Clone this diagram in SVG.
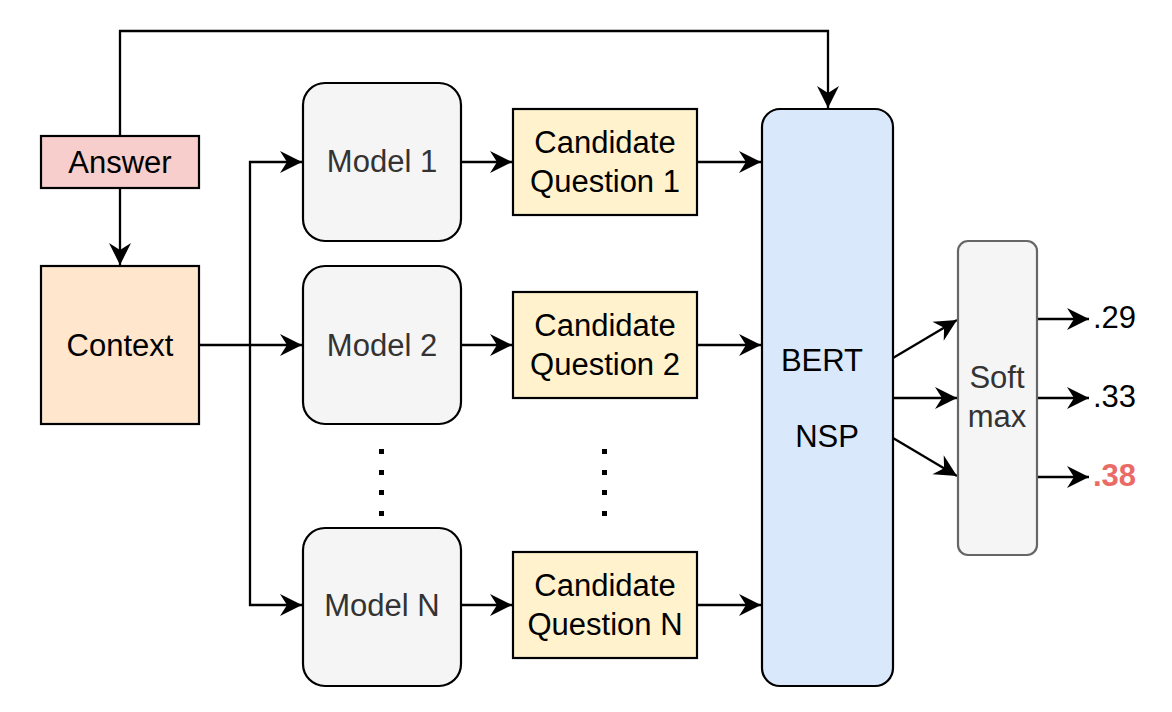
<svg xmlns="http://www.w3.org/2000/svg" width="1172" height="712" viewBox="0 0 1172 712">
<style>
text{font-family:"Liberation Sans",Arial,Helvetica,sans-serif;font-size:31px;text-anchor:middle;fill:#000}
.box{stroke:#000;stroke-width:2.2}
.gray{fill:#333}
.edge{fill:none;stroke:#000;stroke-width:2.3;marker-end:url(#arr)}
.dot{fill:#000}
</style>
<defs>
<marker id="arr" markerUnits="userSpaceOnUse" viewBox="-24 -12 26 24" refX="0" refY="0" markerWidth="26" markerHeight="24" orient="auto">
<path d="M0,0 L-22,-11 L-15,0 L-22,11 Z" fill="#000"/>
</marker>
</defs>
<rect width="1172" height="712" fill="#fff"/>
<g id="connectors">
<path class="edge" d="M120,136 V31 H828 V108"/>
<path class="edge" d="M120,188 V265"/>
<path class="edge" d="M199,345 H302"/>
<path class="edge" d="M250,345 V162 H302"/>
<path class="edge" d="M250,345 V605 H302"/>
<path class="edge" d="M461,162 H512"/>
<path class="edge" d="M461,345 H512"/>
<path class="edge" d="M461,605 H512"/>
<path class="edge" d="M697,162 H761"/>
<path class="edge" d="M697,345 H761"/>
<path class="edge" d="M697,605 H761"/>
<path class="edge" d="M893,358 L957,320"/>
<path class="edge" d="M893,398 H957"/>
<path class="edge" d="M893,438 L957,476"/>
<path class="edge" d="M1037,319 H1089"/>
<path class="edge" d="M1037,398 H1089"/>
<path class="edge" d="M1037,477 H1089"/>
</g>
<g id="answer">
<rect class="box" x="41" y="136" width="158" height="52" fill="#F8CECC"/>
<text x="120" y="173">Answer</text>
</g>
<g id="context">
<rect class="box" x="41" y="266" width="158" height="158" fill="#FFE6CC"/>
<text x="120" y="356">Context</text>
</g>
<g id="model1">
<rect class="box" x="303" y="83" width="158" height="158" rx="22" fill="#F5F5F5"/>
<text class="gray" x="382" y="172">Model 1</text>
</g>
<g id="model2">
<rect class="box" x="303" y="266" width="158" height="158" rx="22" fill="#F5F5F5"/>
<text class="gray" x="382" y="356">Model 2</text>
</g>
<g id="modelN">
<rect class="box" x="303" y="528" width="158" height="158" rx="22" fill="#F5F5F5"/>
<text class="gray" x="382" y="616">Model N</text>
</g>
<g id="dots-models">
<rect class="dot" x="379" y="449" width="5" height="5"/>
<rect class="dot" x="379" y="470" width="5" height="5"/>
<rect class="dot" x="379" y="490" width="5" height="5"/>
<rect class="dot" x="379" y="511" width="5" height="5"/>
</g>
<g id="cq1">
<rect class="box" x="513" y="109" width="184" height="106" fill="#FFF2CC"/>
<text x="605" y="153">Candidate</text>
<text x="605" y="192">Question 1</text>
</g>
<g id="cq2">
<rect class="box" x="513" y="292" width="184" height="106" fill="#FFF2CC"/>
<text x="605" y="336">Candidate</text>
<text x="605" y="375">Question 2</text>
</g>
<g id="cqN">
<rect class="box" x="513" y="552" width="184" height="106" fill="#FFF2CC"/>
<text x="605" y="596">Candidate</text>
<text x="605" y="635">Question N</text>
</g>
<g id="dots-questions">
<rect class="dot" x="602" y="449" width="5" height="5"/>
<rect class="dot" x="602" y="470" width="5" height="5"/>
<rect class="dot" x="602" y="490" width="5" height="5"/>
<rect class="dot" x="602" y="511" width="5" height="5"/>
</g>
<g id="bert">
<rect class="box" x="762" y="109" width="131" height="577" rx="18" fill="#DAE8FC"/>
<text x="822" y="371">BERT</text>
<text x="827" y="447">NSP</text>
</g>
<g id="softmax">
<rect x="958" y="241" width="79" height="314" rx="10" fill="#F5F5F5" stroke="#666" stroke-width="2.2"/>
<text class="gray" x="997" y="388">Soft</text>
<text class="gray" x="997" y="427">max</text>
</g>
<g id="outputs">
<text x="1093" y="328" style="text-anchor:start">.29</text>
<text x="1093" y="407" style="text-anchor:start">.33</text>
<text x="1093" y="486" style="text-anchor:start;fill:#EA6B66;font-weight:bold">.38</text>
</g>
</svg>
